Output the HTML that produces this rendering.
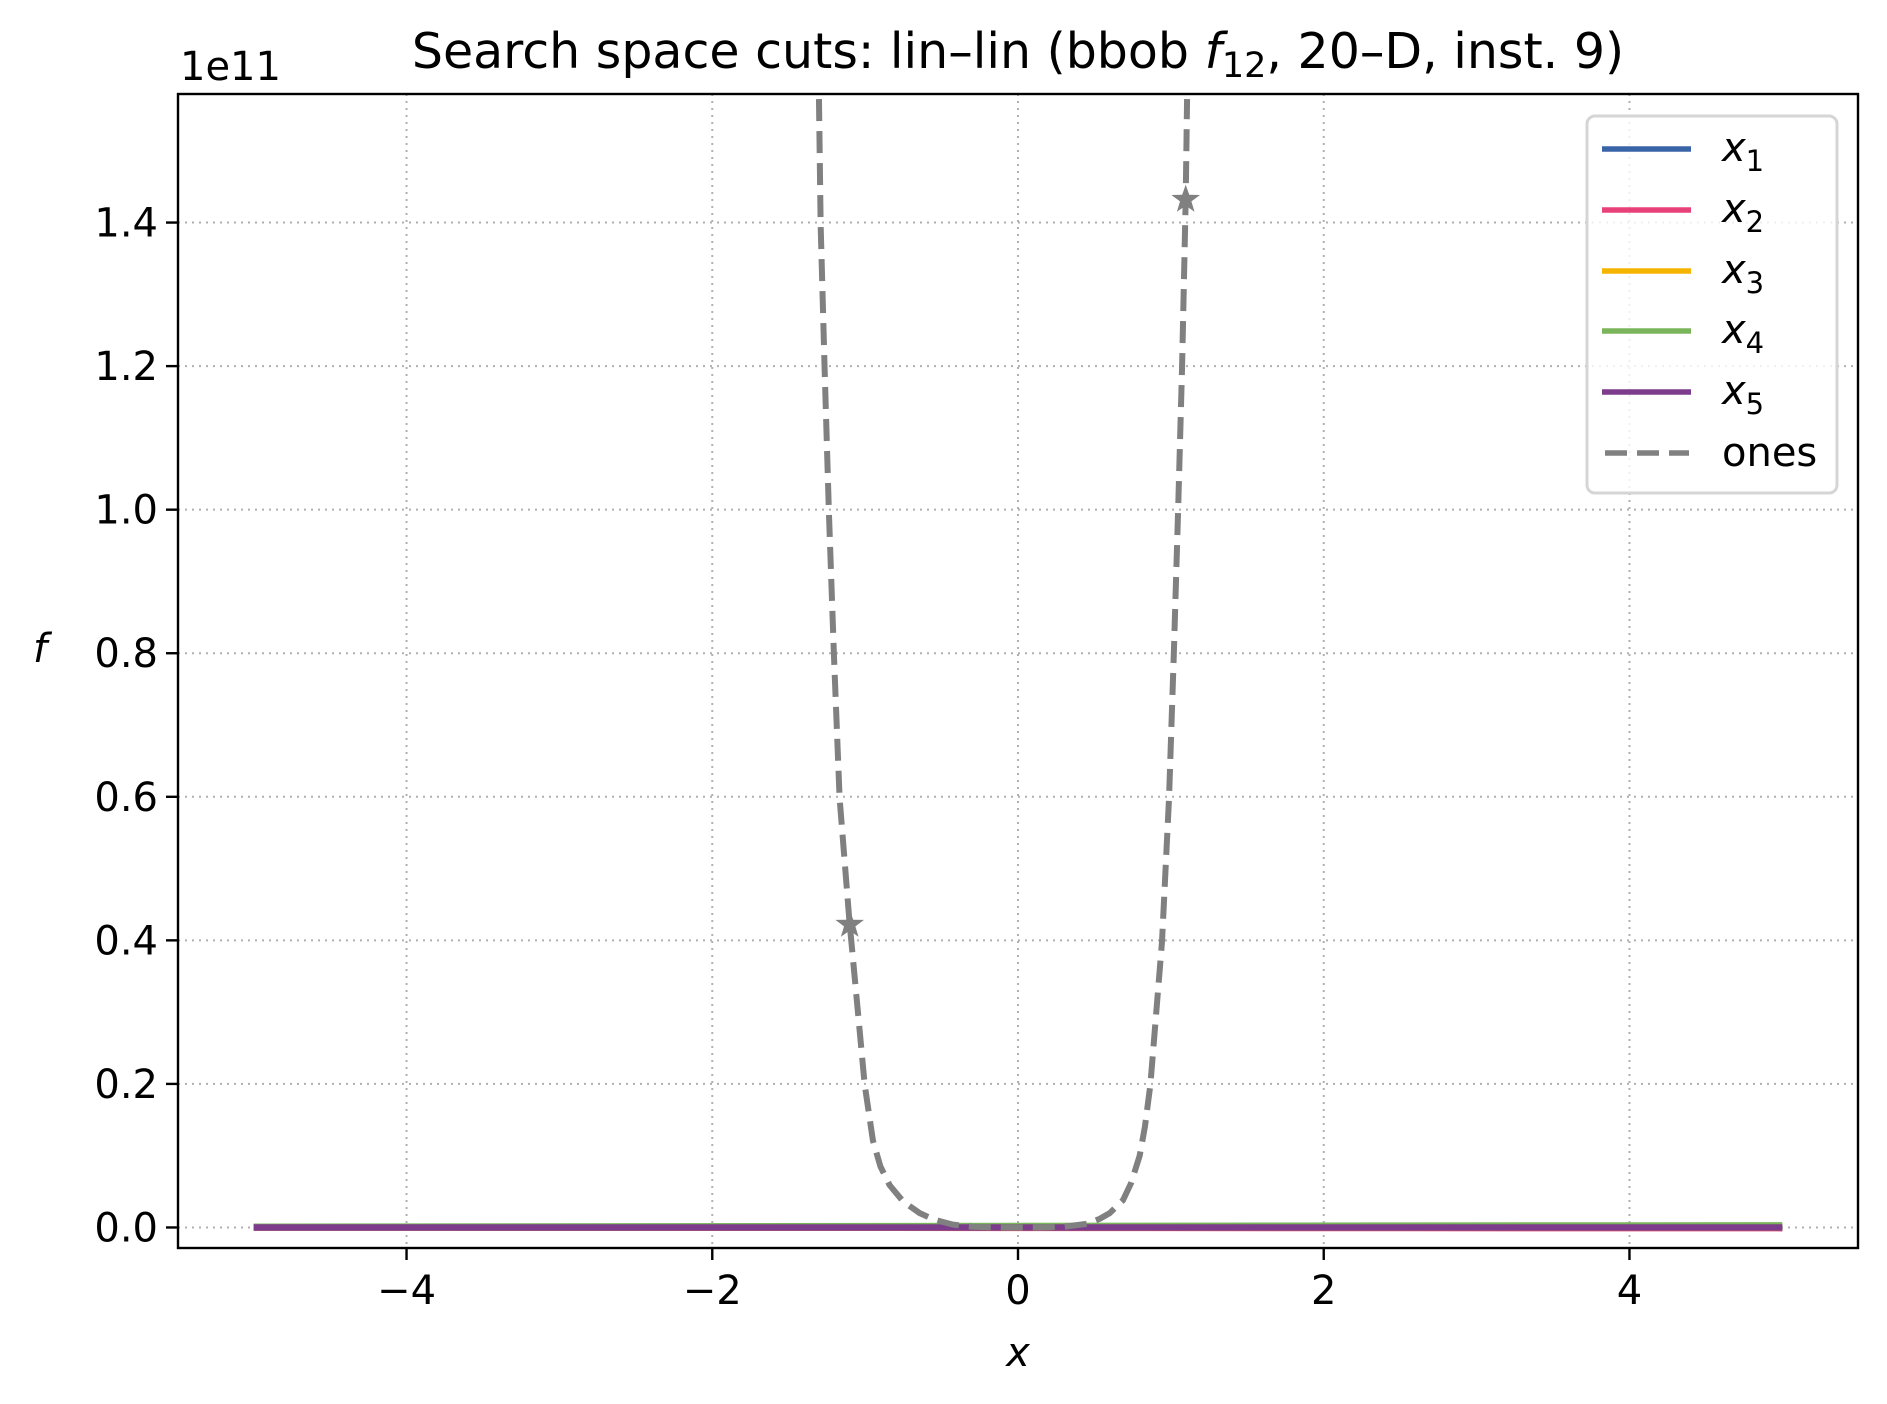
<!DOCTYPE html>
<html><head><meta charset="utf-8">
<style>
html,body{margin:0;padding:0;background:#fff;}
svg{display:block;font-family:"DejaVu Sans","Liberation Sans",sans-serif;}
</style></head>
<body>
<svg id="chart" width="1887" height="1404" viewBox="0 0 1887 1404" xmlns="http://www.w3.org/2000/svg">
<rect width="1887" height="1404" fill="#fff"/>
<text x="1018" y="68" font-size="49" text-anchor="middle">Search space cuts: lin–lin (bbob <tspan font-style="italic">f</tspan><tspan font-size="35" dy="9">12</tspan><tspan dy="-9">, 20–D, inst. 9)</tspan></text>
<text x="180" y="80" font-size="40">1e11</text>
<g id="grid"></g>
<g id="plot"></g>
<g id="axes"></g>
<text x="1018" y="1366" font-size="40" font-style="italic" text-anchor="middle">x</text>
<text x="40" y="662" font-size="40" font-style="italic" text-anchor="middle">f</text>
<g id="legend"></g>
</svg>
<script>
const xTicks = [-4, -2, 0, 2, 4];
const yTicks = [0, 0.2, 0.4, 0.6, 0.8, 1.0, 1.2, 1.4];
const yTickLabels = ["0.0","0.2","0.4","0.6","0.8","1.0","1.2","1.4"];
const cutNames = ["x1","x2","x3","x4","x5"];
const cutX = [-5, 5];
const cut1 = [0.0, 0.0];
const cut2 = [0.0, -0.001];
const cut3 = [0.0, 0.0];
const cut4 = [0.001, 0.003];
const cut5 = [0.0, 0.0];
const onesX = [-1.302,-1.291,-1.265,-1.237,-1.204,-1.167,-1.101,-1.09,-1.003,-0.949,-0.9,-0.84,-0.75,-0.643,-0.55,-0.425,-0.3,-0.15,0,0.15,0.3,0.45,0.534,0.6,0.687,0.74,0.796,0.83,0.866,0.942,0.988,1.019,1.047,1.073,1.097,1.106];
const onesF = [1.572,1.396,1.196,0.996,0.797,0.598,0.422,0.398,0.199,0.121,0.085,0.059,0.036,0.02,0.011,0.004,0.001,0.0002,0,0.0002,0.001,0.005,0.012,0.02,0.038,0.062,0.1,0.14,0.199,0.398,0.598,0.797,0.996,1.196,1.432,1.572];
const starX = [-1.101, 1.097];
const starF = [0.422, 1.432];

const L=178, R=1858, T=94, B=1248;
const xMin=-5.495, xMax=5.495, yMin=-0.0286, yMax=1.5791;
const sx = v => L + (v - xMin) / (xMax - xMin) * (R - L);
const sy = v => B - (v - yMin) / (yMax - yMin) * (B - T);
const NS="http://www.w3.org/2000/svg";
function mk(tag, attrs, parent){const e=document.createElementNS(NS,tag);for(const k in attrs)e.setAttribute(k,attrs[k]);parent.appendChild(e);return e;}
const grid=document.getElementById('grid'), plot=document.getElementById('plot'), axes=document.getElementById('axes'), legend=document.getElementById('legend');

xTicks.forEach(t=>{
  const g=mk('line',{x1:sx(t),x2:sx(t),y1:T,y2:B,stroke:'#b0b0b0','stroke-width':2,'stroke-dasharray':'2,5'},grid);
  
  
  const tk=mk('line',{x1:sx(t),x2:sx(t),y1:B,y2:B+12,stroke:'#000','stroke-width':2.4},axes);
  
  
  const lb=mk('text',{x:sx(t),y:B+56,'font-size':40,'text-anchor':'middle'},axes);
  lb.textContent = t<0 ? '−'+Math.abs(t) : String(t);
  
  
});
yTicks.forEach((t,i)=>{
  const g=mk('line',{x1:L,x2:R,y1:sy(t),y2:sy(t),stroke:'#b0b0b0','stroke-width':2,'stroke-dasharray':'2,5'},grid);
  
  
  const tk=mk('line',{x1:L-12,x2:L,y1:sy(t),y2:sy(t),stroke:'#000','stroke-width':2.4},axes);
  
  
  const lb=mk('text',{x:L-20,y:sy(t)+14,'font-size':40,'text-anchor':'end'},axes);
  lb.textContent=yTickLabels[i];
  
  
});
const fr=mk('rect',{x:L,y:T,width:R-L,height:B-T,fill:'none',stroke:'#000','stroke-width':2.4},axes);



const clip=mk('clipPath',{id:'clp'},document.getElementById('chart'));
mk('rect',{x:L,y:T,width:R-L,height:B-T},clip);
plot.setAttribute('clip-path','url(#clp)');

const colors=['#3a64a8','#e8417a','#f5b400','#7ab55c','#7d3b8c'];
const cuts=[cut1,cut2,cut3,cut4,cut5];
cuts.forEach((arr,i)=>{
  const d=arr.map((v,j)=>(j?'L':'M')+sx(cutX[j])+','+sy(v)).join(' ');
  const p=mk('path',{d:d,fill:'none',stroke:colors[i],'stroke-width':6.5},plot);
  
  
});
const od=onesX.map((v,j)=>(j?'L':'M')+sx(v)+','+sy(onesF[j])).join(' ');
const op=mk('path',{d:od,fill:'none',stroke:'#808080','stroke-width':6,'stroke-dasharray':'22,10','stroke-linejoin':'round'},plot);


function star(cx,cy,r){let pts=[];for(let k=0;k<10;k++){const a=-Math.PI/2+k*Math.PI/5;const rr=k%2?r*0.4:r;pts.push((cx+rr*Math.cos(a)).toFixed(1)+','+(cy+rr*Math.sin(a)).toFixed(1));}return pts.join(' ');}
starX.forEach((v,i)=>{
  const s=mk('polygon',{points:star(sx(v),sy(starF[i]),15),fill:'#808080'},plot);
  
  
});

const lb=mk('rect',{x:1587,y:116,width:250,height:377,rx:8,fill:'#fff','fill-opacity':0.8,stroke:'#d5d5d5','stroke-width':3},legend);


const rows=[149,210,271,331,392,453];
cutNames.forEach((n,i)=>{
  const l=mk('line',{x1:1602,x2:1691,y1:rows[i],y2:rows[i],stroke:colors[i],'stroke-width':5.5},legend);
  
  
  const t=mk('text',{x:1722,y:rows[i]+12,'font-size':40,'font-style':'italic'},legend);
  t.innerHTML='x<tspan font-size="29" font-style="normal" dy="10">'+(i+1)+'</tspan>';
  
  
});
const ol=mk('line',{x1:1605,x2:1689,y1:rows[5],y2:rows[5],stroke:'#808080','stroke-width':5.5,'stroke-dasharray':'22,10'},legend);


const ot=mk('text',{x:1722,y:rows[5]+13,'font-size':40},legend);
ot.textContent='ones';


</script>
</body></html>
